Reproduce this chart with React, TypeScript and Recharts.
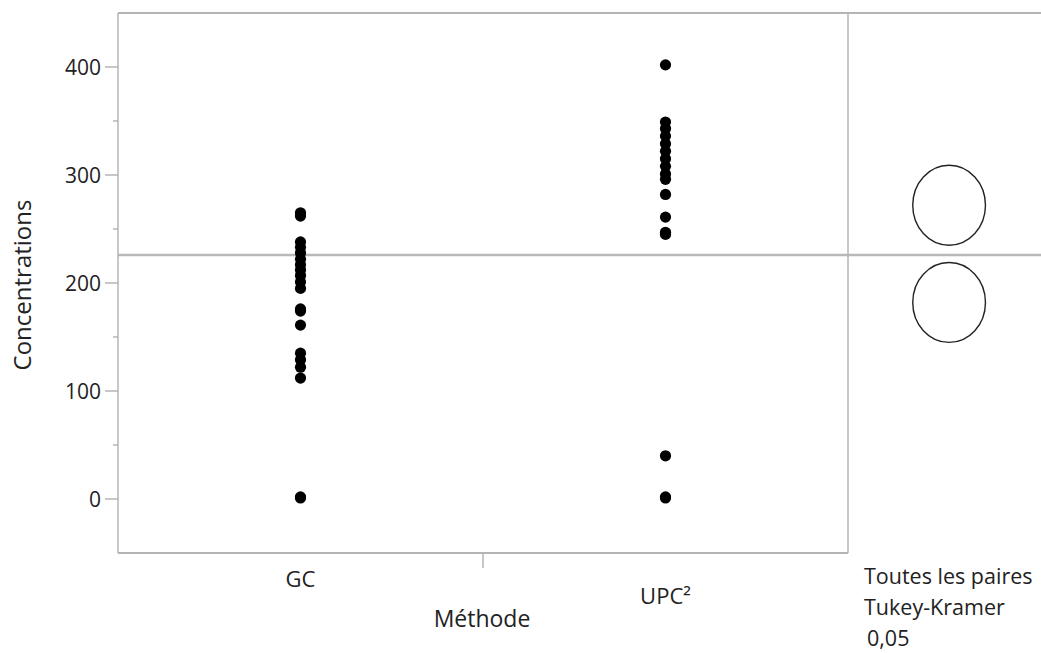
import {
  ScatterChart,
  Scatter,
  XAxis,
  YAxis,
  ReferenceLine,
  ReferenceDot,
  Customized,
} from "recharts";

// Concentrations par méthode
const gcValues = [265, 262, 238, 233, 228, 222, 217, 212, 207, 201, 195, 176, 174, 161, 135, 129, 122, 112, 2, 1];
const upcValues = [402, 349, 343, 336, 329, 322, 315, 308, 301, 296, 282, 261, 247, 245, 40, 2, 1];

const categories = ["GC", "UPC²"];
const yTicks = [0, 50, 100, 150, 200, 250, 300, 350, 400];
const yDomain: [number, number] = [-50, 450];

// Moyenne globale et cercles de comparaison Tukey-Kramer
const grandMean = 226;
const tukeyCenters = [272, 182];
const tukeyRadius = 37;

const W = 1041;
const H = 653;
const X_AXIS_H = 100;
const M = { top: 13, right: 0, bottom: 0, left: 0 };
const Y_AXIS_W = 118;
const PLOT_H = H - M.top - X_AXIS_H;
const PX_PER_UNIT = PLOT_H / (yDomain[1] - yDomain[0]);

// catégorie i -> x = i + 1 ; panneau de droite au-delà de 2.5
const xDomain: [number, number] = [0.5, 0.5 + (W - Y_AXIS_W) / 365];
const circleX = 2.777;

const FONT = "'Open Sans', 'Noto Sans', sans-serif";
const TEXT = "#222";
const AXIS = "#b4b4b4";

const gcData = gcValues.map((v) => ({ x: 1, y: v }));
const upcData = upcValues.map((v) => ({ x: 2, y: v }));

function Dot(props: any) {
  const { cx, cy } = props;
  if (cx == null || cy == null) return null;
  return <circle cx={cx} cy={cy} r={5.6} fill="#000" />;
}

function YTick(props: any) {
  const { x, y, payload } = props;
  const major = payload.value % 100 === 0;
  return (
    <g>
      <line x1={x - (major ? 13 : 5)} x2={x} y1={y} y2={y} stroke={AXIS} strokeWidth={1.5} />
      {major && (
        <text x={x - 17} y={y} dy="0.36em" textAnchor="end" fontSize={21} fontFamily={FONT} fill={TEXT}>
          {payload.value}
        </text>
      )}
    </g>
  );
}

function XTick(props: any) {
  const { x, y, payload } = props;
  if (payload.value === 1.5) {
    return <line x1={x} x2={x} y1={y} y2={y + 15} stroke={AXIS} strokeWidth={1.5} />;
  }
  const idx = payload.value - 1;
  return (
    <text
      x={x}
      y={y + (idx === 0 ? 34 : 51)}
      textAnchor="middle"
      fontSize={22}
      fontFamily={FONT}
      fill={TEXT}
    >
      {categories[idx]}
    </text>
  );
}

function TukeyCircle(props: any) {
  const { cx, cy } = props;
  const ry = tukeyRadius * PX_PER_UNIT;
  return <ellipse cx={cx} cy={cy} rx={ry * 0.91} ry={ry} fill="none" stroke="#222" strokeWidth={1.4} />;
}

function Labels() {
  return (
    <g fontFamily={FONT} fill={TEXT}>
      <text x={23} y={285} transform="rotate(-90 23 285)" textAnchor="middle" dy="0.35em" fontSize={24}>
        Concentrations
      </text>
      <text x={482} y={627} textAnchor="middle" fontSize={23}>
        Méthode
      </text>
      <text x={864} y={584} fontSize={21.5}>
        Toutes les paires
      </text>
      <text x={864} y={615} fontSize={21.5}>
        Tukey-Kramer
      </text>
      <text x={867} y={646} fontSize={21.5}>
        0,05
      </text>
    </g>
  );
}

export default function App() {
  return (
    <div style={{ position: "absolute", left: 0, top: 0, width: W, height: H, background: "#fff" }}>
      <ScatterChart width={W} height={H} margin={M}>
        <XAxis
          type="number"
          dataKey="x"
          domain={xDomain}
          allowDataOverflow
          ticks={[1, 1.5, 2]}
          tick={<XTick />}
          axisLine={false}
          tickLine={false}
          tickSize={0}
          tickMargin={0}
          height={X_AXIS_H}
          interval={0}
        />
        <YAxis
          type="number"
          dataKey="y"
          domain={yDomain}
          allowDataOverflow
          ticks={yTicks}
          tick={<YTick />}
          tickLine={false}
          tickSize={0}
          tickMargin={0}
          width={Y_AXIS_W}
          interval={0}
          axisLine={{ stroke: AXIS, strokeWidth: 1.5 }}
        />
        <ReferenceLine y={450} stroke={AXIS} strokeWidth={2} ifOverflow="visible" />
        <ReferenceLine
          segment={[
            { x: 0.5, y: -50 },
            { x: 2.5, y: -50 },
          ]}
          stroke={AXIS}
          strokeWidth={2}
          ifOverflow="visible"
        />
        <ReferenceLine x={2.5} stroke={AXIS} strokeWidth={1.5} ifOverflow="visible" />
        <ReferenceLine y={grandMean} stroke="#b8b8b8" strokeWidth={2.5} />
        {tukeyCenters.map((c, i) => (
          <ReferenceDot key={i} x={circleX} y={c} r={40} shape={<TukeyCircle />} ifOverflow="visible" />
        ))}
        <Scatter data={gcData} shape={<Dot />} isAnimationActive={false} />
        <Scatter data={upcData} shape={<Dot />} isAnimationActive={false} />
        <Customized component={<Labels />} />
      </ScatterChart>
    </div>
  );
}
